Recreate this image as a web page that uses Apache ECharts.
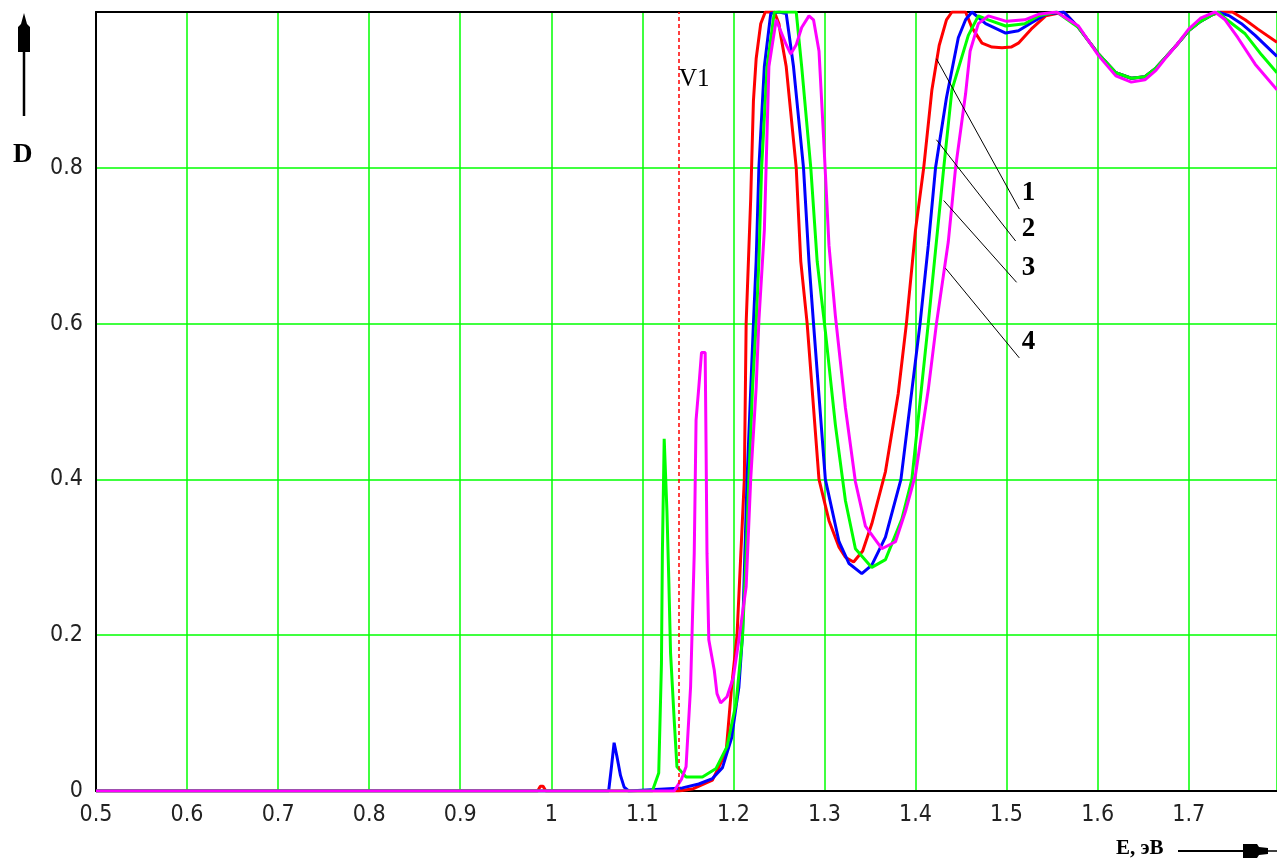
<!DOCTYPE html>
<html>
<head>
<meta charset="utf-8">
<title>D(E)</title>
<script src="https://cdn.jsdelivr.net/npm/echarts/dist/echarts.min.js"></script>
<style>
    html, body { margin: 0; padding: 0; background: #fff; }
    #chart { width: 1277px; height: 859px; }
</style>
</head>
<body>
<div id="chart"></div>
<script>
// 1 - красная кривая
var redE = [0.5, 0.985, 0.988, 0.991, 0.994, 1.14, 1.156, 1.177, 1.192, 1.198, 1.204, 1.212, 1.214, 1.219, 1.222, 1.225, 1.23, 1.235, 1.245, 1.25, 1.252, 1.258, 1.269, 1.274, 1.281, 1.294, 1.305, 1.316, 1.323, 1.332, 1.342, 1.352, 1.367, 1.381, 1.39, 1.4, 1.409, 1.418, 1.426, 1.434, 1.44, 1.455, 1.462, 1.473, 1.484, 1.495, 1.505, 1.513, 1.527, 1.543, 1.563, 1.579, 1.59, 1.601, 1.62, 1.637, 1.652, 1.664, 1.674, 1.687, 1.7, 1.713, 1.725, 1.735, 1.748, 1.762, 1.776, 1.797];
var redD = [0, 0, 0.006, 0.006, 0, 0, 0.003, 0.014, 0.05, 0.133, 0.2, 0.4, 0.6, 0.76, 0.886, 0.94, 0.985, 1, 1, 0.985, 0.97, 0.93, 0.8, 0.68, 0.6, 0.4, 0.347, 0.313, 0.3, 0.294, 0.308, 0.343, 0.41, 0.51, 0.6, 0.72, 0.8, 0.9, 0.957, 0.99, 1, 1, 0.98, 0.96, 0.955, 0.954, 0.955, 0.96, 0.978, 0.995, 1, 0.98, 0.963, 0.946, 0.922, 0.915, 0.917, 0.928, 0.941, 0.958, 0.976, 0.988, 0.996, 1, 1, 0.99, 0.978, 0.961];

// 2 - синяя
var blueE = [0.5, 1.063, 1.066, 1.069, 1.072, 1.076, 1.08, 1.085, 1.144, 1.162, 1.177, 1.188, 1.198, 1.206, 1.21, 1.215, 1.222, 1.225, 1.228, 1.234, 1.241, 1.25, 1.258, 1.266, 1.277, 1.283, 1.288, 1.301, 1.316, 1.327, 1.341, 1.352, 1.367, 1.384, 1.405, 1.414, 1.422, 1.434, 1.447, 1.455, 1.462, 1.477, 1.499, 1.513, 1.527, 1.543, 1.563, 1.579, 1.59, 1.601, 1.62, 1.637, 1.652, 1.664, 1.674, 1.687, 1.7, 1.713, 1.725, 1.732, 1.745, 1.758, 1.773, 1.797];
var blueD = [0, 0, 0.03, 0.062, 0.045, 0.02, 0.005, 0, 0.004, 0.009, 0.016, 0.03, 0.068, 0.133, 0.2, 0.4, 0.6, 0.68, 0.8, 0.93, 0.998, 1, 0.998, 0.93, 0.8, 0.68, 0.6, 0.4, 0.32, 0.292, 0.279, 0.29, 0.326, 0.4, 0.6, 0.7, 0.8, 0.89, 0.967, 0.99, 1, 0.985, 0.973, 0.976, 0.986, 0.997, 1, 0.98, 0.963, 0.946, 0.922, 0.915, 0.917, 0.928, 0.941, 0.958, 0.976, 0.988, 0.996, 1, 0.995, 0.985, 0.97, 0.943];

// 3 - зелёная
var greenE = [0.5, 1.111, 1.118, 1.121, 1.122, 1.124, 1.126, 1.127, 1.129, 1.131, 1.135, 1.138, 1.148, 1.166, 1.181, 1.193, 1.203, 1.21, 1.214, 1.217, 1.221, 1.225, 1.228, 1.231, 1.237, 1.245, 1.269, 1.275, 1.285, 1.292, 1.301, 1.312, 1.323, 1.334, 1.352, 1.367, 1.385, 1.396, 1.414, 1.431, 1.44, 1.458, 1.469, 1.48, 1.499, 1.52, 1.535, 1.555, 1.579, 1.59, 1.601, 1.62, 1.637, 1.652, 1.664, 1.674, 1.687, 1.7, 1.713, 1.725, 1.732, 1.742, 1.762, 1.78, 1.797];
var greenD = [0, 0, 0.023, 0.164, 0.305, 0.452, 0.45, 0.36, 0.274, 0.177, 0.091, 0.031, 0.018, 0.018, 0.029, 0.057, 0.113, 0.198, 0.305, 0.4, 0.518, 0.6, 0.68, 0.8, 0.93, 1, 1, 0.93, 0.8, 0.68, 0.59, 0.47, 0.373, 0.311, 0.287, 0.297, 0.349, 0.4, 0.6, 0.8, 0.9, 0.97, 0.995, 0.99, 0.982, 0.985, 0.995, 1, 0.98, 0.963, 0.946, 0.922, 0.915, 0.917, 0.928, 0.941, 0.958, 0.976, 0.988, 0.996, 1, 0.99, 0.972, 0.945, 0.922];

// 4 - пурпурная
var pinkE = [0.5, 1.135, 1.143, 1.148, 1.153, 1.157, 1.159, 1.162, 1.165, 1.169, 1.17, 1.171, 1.173, 1.179, 1.182, 1.186, 1.193, 1.2, 1.206, 1.214, 1.219, 1.225, 1.228, 1.234, 1.239, 1.247, 1.258, 1.263, 1.269, 1.275, 1.283, 1.288, 1.294, 1.299, 1.305, 1.312, 1.323, 1.334, 1.345, 1.363, 1.378, 1.389, 1.4, 1.414, 1.423, 1.436, 1.444, 1.455, 1.46, 1.469, 1.48, 1.5, 1.52, 1.535, 1.555, 1.579, 1.59, 1.601, 1.62, 1.637, 1.652, 1.664, 1.674, 1.687, 1.7, 1.713, 1.729, 1.74, 1.754, 1.773, 1.797];
var pinkD = [0, 0, 0.015, 0.031, 0.134, 0.305, 0.476, 0.518, 0.563, 0.563, 0.441, 0.305, 0.194, 0.155, 0.125, 0.113, 0.121, 0.146, 0.194, 0.262, 0.4, 0.518, 0.604, 0.72, 0.93, 0.99, 0.958, 0.946, 0.958, 0.98, 0.995, 0.99, 0.95, 0.84, 0.7, 0.61, 0.492, 0.397, 0.34, 0.311, 0.32, 0.359, 0.406, 0.515, 0.6, 0.705, 0.8, 0.895, 0.95, 0.985, 0.995, 0.988, 0.99, 0.997, 1, 0.982, 0.963, 0.944, 0.918, 0.91, 0.913, 0.925, 0.94, 0.958, 0.978, 0.992, 1, 0.99, 0.967, 0.933, 0.9];

// маркер V1
var v1E = 1.1425;

// подписи и выноски
var noteText = ['V1', '1', '2', '3', '4'];
var noteE = [1.157, 1.524, 1.524, 1.524, 1.524];
var noteD = [0.914, 0.767, 0.721, 0.671, 0.576];
var leaderFromE = [1.423, 1.423, 1.431, 1.433];
var leaderFromD = [0.94, 0.836, 0.758, 0.671];
var leaderToE = [1.514, 1.51, 1.511, 1.514];
var leaderToD = [0.747, 0.706, 0.653, 0.556];

function pairs(e, d) {
    var out = [];
    for (var i = 0; i < e.length; i++) {
        out.push([e[i], d[i]]);
    }
    return out;
}

var tickFont = '"DejaVu Sans Condensed", "Liberation Sans Narrow", "DejaVu Sans", sans-serif';
var serifFont = '"Liberation Serif", "DejaVu Serif", serif';

function curve(name, color, e, d) {
    return {
        name: name,
        type: 'line',
        data: pairs(e, d),
        symbol: 'none',
        smooth: false,
        lineStyle: { color: color, width: 3 },
        itemStyle: { color: color }
    };
}

var series = [
    curve('1', '#ff0000', redE, redD),
    curve('2', '#0000ff', blueE, blueD),
    curve('3', '#00ff00', greenE, greenD),
    curve('4', '#ff00ff', pinkE, pinkD)
];

// пунктир V1
series[0].markLine = {
    silent: true,
    symbol: ['none', 'none'],
    label: { show: false },
    lineStyle: { color: '#ff0000', type: [4, 3], width: 1.5 },
    data: [{ xAxis: v1E }]
};

var leaders = [];
for (var i = 0; i < leaderFromE.length; i++) {
    leaders.push({ coords: [[leaderFromE[i], leaderFromD[i]], [leaderToE[i], leaderToD[i]]] });
}
series.push({
    type: 'lines',
    coordinateSystem: 'cartesian2d',
    silent: true,
    lineStyle: { color: '#000', width: 1, opacity: 1 },
    data: leaders,
    z: 5
});

var notes = [];
for (var j = 0; j < noteText.length; j++) {
    notes.push({
        value: [noteE[j], noteD[j]],
        label: {
            formatter: noteText[j],
            fontWeight: j == 0 ? 'normal' : 'bold',
            fontSize: j == 0 ? 25 : 27
        }
    });
}
series.push({
    type: 'scatter',
    symbolSize: 0,
    silent: true,
    itemStyle: { opacity: 1 },
    data: notes,
    label: {
        show: true,
        position: 'inside',
        color: '#000',
        opacity: 1,
        fontFamily: serifFont
    },
    z: 6
});

var myChart = echarts.init(document.getElementById('chart'), null, { renderer: 'canvas' });
var option = {
    animation: false,
    backgroundColor: '#ffffff',
    grid: { left: 96, right: -2, top: 12, bottom: 68 },
    xAxis: [{
        type: 'value',
        min: 0.5,
        max: 1.797,
        interval: 0.1,
        axisLine: { show: true, onZero: false, lineStyle: { color: '#000', width: 2 } },
        axisTick: { show: false },
        axisLabel: {
            showMaxLabel: false,
            margin: 13,
            fontSize: 23,
            fontFamily: tickFont,
            color: '#222'
        },
        splitLine: { show: true, lineStyle: { color: '#00ff00', width: 1.5 } }
    }, {
        type: 'value',
        position: 'top',
        min: 0.5,
        max: 1.797,
        axisLine: { show: true, onZero: false, lineStyle: { color: '#000', width: 2 } },
        axisTick: { show: false },
        axisLabel: { show: false },
        splitLine: { show: false }
    }],
    yAxis: {
        type: 'value',
        min: 0,
        max: 1,
        interval: 0.2,
        axisLine: { show: true, lineStyle: { color: '#000', width: 2 } },
        axisTick: { show: false },
        axisLabel: {
            margin: 13,
            fontSize: 23,
            fontFamily: tickFont,
            color: '#222',
            formatter: function (v) {
                return v >= 1 ? '' : String(v);
            }
        },
        splitLine: { show: true, lineStyle: { color: '#00ff00', width: 1.5 } }
    },
    graphic: [
        // ось D
        { type: 'polyline', shape: { points: [[24, 116], [24, 45]] }, style: { stroke: '#000', lineWidth: 2.5 } },
        { type: 'polygon', shape: { points: [[24, 13], [27, 24], [30, 27], [30, 52], [18, 52], [18, 27], [21, 24]] }, style: { fill: '#000' } },
        { type: 'text', left: 13, top: 142, style: { text: 'D', font: 'bold 27px ' + serifFont, fill: '#000' } },
        // ось E
        { type: 'text', left: 1116, top: 838, style: { text: 'E, эВ', font: 'bold 21px ' + serifFont, fill: '#000' } },
        { type: 'polyline', shape: { points: [[1178, 851], [1245, 851]] }, style: { stroke: '#000', lineWidth: 2 } },
        { type: 'polygon', shape: { points: [[1243, 844], [1257, 844], [1259, 847], [1268, 848], [1268, 854], [1259, 855], [1257, 858], [1243, 858]] }, style: { fill: '#000' } },
        { type: 'polyline', shape: { points: [[1268, 851], [1277, 851]] }, style: { stroke: '#000', lineWidth: 1.5 } }
    ],
    series: series
};
myChart.setOption(option);
</script>
</body>
</html>
